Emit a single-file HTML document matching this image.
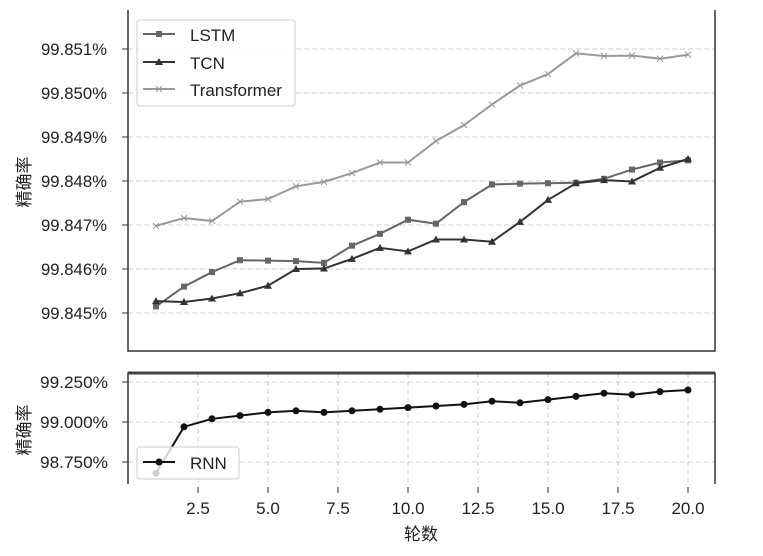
<!DOCTYPE html>
<html><head><meta charset="utf-8"><style>
body{margin:0;background:#fff;}
text{font-family:"Liberation Sans","Noto Sans CJK SC",sans-serif;fill:#222;}
</style></head><body>
<svg id="s" width="763" height="551" xmlns="http://www.w3.org/2000/svg"></svg>
<script>
const s=document.getElementById('s');let h='';
const X=x=>156+(x-1)*28.0;
const YT=v=>49+(99.851-v)*44000;
const YB=v=>422-(v-99)*160;
const L=[99.84515,.84560,.84593,.84620,.84619,.84618,.84614,.84653,.84680,.84712,.84703,.84752,.84792,.84794,.84795,.84796,.84805,.84826,.84842,.84847].map((v,i)=>i?99+v:v);
const T=[.84527,.84525,.84533,.84545,.84562,.84600,.84601,.84623,.84648,.84640,.84667,.84667,.84662,.84707,.84757,.84795,.84802,.84799,.84830,.84850].map(v=>99+v);
const F=[.84698,.84716,.84709,.84753,.84759,.84788,.84798,.84818,.84842,.84842,.84891,.84927,.84974,.85017,.85043,.85090,.85084,.85085,.85078,.85087].map(v=>99+v);
const R=[98.68,98.97,99.02,99.04,99.06,99.07,99.06,99.07,99.08,99.09,99.10,99.11,99.13,99.12,99.14,99.16,99.18,99.17,99.19,99.20];
for(let k=0;k<7;k++){const v=99.845+k*0.001,y=YT(v);h+=`<line x1="128" x2="715" y1="${y}" y2="${y}" stroke="#ccc" stroke-dasharray="5,3"/><line x1="122" x2="128" y1="${y}" y2="${y}" stroke="#333"/><text x="107" y="${y+6}" font-size="17" text-anchor="end" textLength="66" lengthAdjust="spacingAndGlyphs">${v.toFixed(3)}%</text>`;}
h+=`<path d="M128 10V351H715V10" fill="none" stroke="#333" stroke-width="1.5"/>`;
h+=`<text transform="translate(30,182) rotate(-90)" font-size="17" text-anchor="middle">精确率</text>`;
[[99.25,'99.250%'],[99,'99.000%'],[98.75,'98.750%']].forEach(([v,t])=>{const y=YB(v);h+=`<line x1="128" x2="715" y1="${y}" y2="${y}" stroke="#ccc" stroke-dasharray="5,3"/><line x1="122" x2="128" y1="${y}" y2="${y}" stroke="#333"/><text x="108" y="${y+6}" font-size="17" text-anchor="end" textLength="68" lengthAdjust="spacingAndGlyphs">${t}</text>`;});
for(let k=1;k<=8;k++){const x=X(2.5*k);h+=`<line x1="${x}" x2="${x}" y1="373" y2="484" stroke="#ccc" stroke-dasharray="5,3"/><line x1="${x}" x2="${x}" y1="487" y2="493" stroke="#333"/><text x="${x}" y="514" font-size="17" text-anchor="middle">${(2.5*k).toFixed(1)}</text>`;}
h+=`<path d="M128 484V373H715V484" fill="none" stroke="#333" stroke-width="1.5"/><line x1="128" x2="715" y1="373" y2="373" stroke="#444" stroke-width="3"/>`;
h+=`<text transform="translate(30,430) rotate(-90)" font-size="17" text-anchor="middle">精确率</text>`;
h+=`<text x="421" y="540" font-size="17" text-anchor="middle">轮数</text>`;
const poly=(a,f,c)=>`<polyline points="${a.map((v,i)=>X(i+1)+','+f(v)).join(' ')}" fill="none" stroke="${c}" stroke-width="2"/>`;
h+=poly(F,YT,'#999');F.forEach((v,i)=>{const x=X(i+1),y=YT(v);h+=`<path d="M${x-3} ${y-3}L${x+3} ${y+3}M${x-3} ${y+3}L${x+3} ${y-3}" stroke="#999"/>`;});
h+=poly(L,YT,'#666');L.forEach((v,i)=>{h+=`<rect x="${X(i+1)-3}" y="${YT(v)-3}" width="6" height="6" fill="#666"/>`;});
h+=poly(T,YT,'#333');T.forEach((v,i)=>{const x=X(i+1),y=YT(v);h+=`<path d="M${x} ${y-4}L${x+4} ${y+3}L${x-4} ${y+3}Z" fill="#333"/>`;});
h+=poly(R,YB,'#111');R.forEach((v,i)=>{h+=`<circle cx="${X(i+1)}" cy="${YB(v)}" r="3.5" fill="#111"/>`;});
h+=`<rect x="137" y="20" width="158" height="86" rx="3" fill="#fff" fill-opacity="0.85" stroke="#ccc"/>
<line x1="143" x2="175" y1="34" y2="34" stroke="#666" stroke-width="2"/><rect x="156" y="31" width="6" height="6" fill="#666"/><text x="190" y="41" font-size="17">LSTM</text>
<line x1="143" x2="175" y1="62" y2="62" stroke="#333" stroke-width="2"/><path d="M159 58L163 65L155 65Z" fill="#333"/><text x="190" y="69" font-size="17">TCN</text>
<line x1="143" x2="175" y1="89" y2="89" stroke="#999" stroke-width="2"/><path d="M156 86L162 92M156 92L162 86" stroke="#999"/><text x="190" y="96" font-size="17">Transformer</text>`;
h+=`<rect x="137" y="447" width="102" height="32" rx="3" fill="#fff" fill-opacity="0.8" stroke="#ccc"/>
<line x1="143" x2="175" y1="462" y2="462" stroke="#111" stroke-width="2"/><circle cx="159" cy="462" r="3.5" fill="#111"/><text x="190" y="469" font-size="17">RNN</text>`;
s.innerHTML=h;
</script>
</body></html>
